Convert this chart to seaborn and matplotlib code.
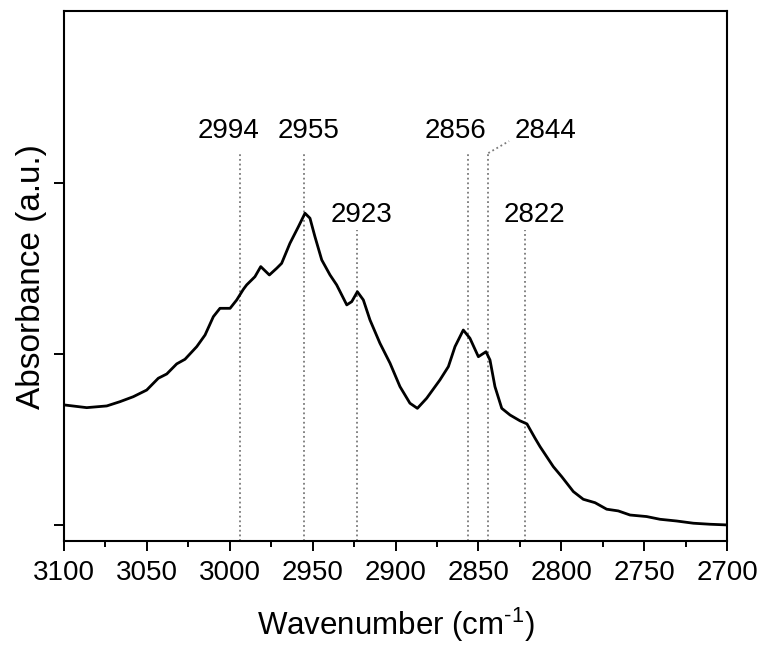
import numpy as np
import pandas as pd
import matplotlib
matplotlib.use("Agg")
import matplotlib.pyplot as plt
from matplotlib.ticker import MultipleLocator
import seaborn as sns

# ---- data ----
wavenumber = [3100.0, 3086.3, 3074.2, 3066.2, 3058.2, 3050.1, 3043.1, 3038.0, 3032.0, 3027.0,
              3019.9, 3014.9, 3009.9, 3005.9, 2999.8, 2995.8, 2991.8, 2989.8, 2984.8, 2981.3,
              2976.1, 2971.7, 2968.7, 2963.7, 2958.6, 2954.6, 2951.6, 2948.6, 2944.5, 2939.5,
              2935.5, 2929.4, 2926.4, 2923.0, 2919.4, 2915.4, 2909.4, 2903.3, 2897.3, 2891.3,
              2886.8, 2881.2, 2873.2, 2868.1, 2864.1, 2859.1, 2855.1, 2850.0, 2845.4, 2843.0,
              2840.0, 2835.9, 2830.9, 2824.9, 2820.7, 2815.8, 2812.8, 2804.8, 2799.7, 2792.7,
              2786.7, 2779.6, 2772.6, 2765.6, 2758.5, 2748.5, 2740.4, 2730.4, 2720.3, 2710.3,
              2700.0]
absorbance = [0.702, 0.686, 0.696, 0.721, 0.750, 0.789, 0.858, 0.883, 0.942, 0.969,
              1.043, 1.111, 1.218, 1.267, 1.267, 1.316, 1.378, 1.404, 1.452, 1.511,
              1.462, 1.501, 1.530, 1.647, 1.744, 1.823, 1.794, 1.686, 1.550, 1.462,
              1.404, 1.287, 1.306, 1.364, 1.316, 1.199, 1.063, 0.946, 0.809, 0.712,
              0.682, 0.741, 0.848, 0.926, 1.043, 1.140, 1.092, 0.984, 1.013, 0.965,
              0.809, 0.682, 0.643, 0.609, 0.591, 0.507, 0.458, 0.341, 0.282, 0.195,
              0.150, 0.130, 0.092, 0.082, 0.058, 0.049, 0.033, 0.023, 0.010, 0.004,
              0.000]

peak_positions = [2994, 2955, 2923, 2856, 2844, 2822]
peak_labels = ["2994", "2955", "2923", "2856", "2844", "2822"]
peak_line_top = [2.175, 2.175, 1.725, 2.175, 2.175, 1.725]

x_ticks = [3100, 3050, 3000, 2950, 2900, 2850, 2800, 2750, 2700]
y_ticks = [0, 1, 2]

# ---- styling ----
sns.set_style("ticks")
plt.rcParams["font.family"] = ["Liberation Sans", "DejaVu Sans"]
plt.rcParams["mathtext.fontset"] = "custom"
plt.rcParams["mathtext.rm"] = "Liberation Sans"
for key in ["text.color", "axes.labelcolor", "xtick.color", "ytick.color", "axes.edgecolor"]:
    plt.rcParams[key] = "black"

fig = plt.figure(figsize=(7.62, 6.51), dpi=100)
ax = fig.add_axes([64 / 762, 1 - 541 / 651, (727 - 64) / 762, (541 - 11) / 651])

df = pd.DataFrame({"wavenumber": wavenumber, "absorbance": absorbance})
sns.lineplot(data=df, x="wavenumber", y="absorbance", color="black", lw=2.0, ax=ax,
             sort=False, estimator=None, solid_joinstyle="round", solid_capstyle="round")

ymin, ymax = -0.094, 3.006
ax.set_xlim(3100, 2700)
ax.set_ylim(ymin, ymax)

# peak marker lines + labels
dot_style = dict(color="#7a7a7a", lw=1.3, linestyle=(0, (1, 1.6)))
label_offsets = {"2994": (-8, 0.09), "2955": (3, 0.09), "2923": (3.3, 0.045),
                 "2856": (-9, 0.09), "2844": (41, 0.09), "2822": (7, 0.045)}
for pos, lab, top in zip(peak_positions, peak_labels, peak_line_top):
    ax.plot([pos, pos], [ymin, top], **dot_style, zorder=1)
    dx_pt, dy = label_offsets[lab]
    ax.annotate(lab, xy=(pos, top + dy), xytext=(dx_pt, 0), textcoords="offset points",
                ha="center", va="baseline", fontsize=20, color="black")
    if lab == "2844":
        ax.plot([pos, pos - 12.5], [top, top + 0.07], **dot_style, zorder=1)

ax.set_xticks(x_ticks)
ax.set_xticklabels([str(t) for t in x_ticks])
ax.xaxis.set_minor_locator(MultipleLocator(25))
ax.set_yticks(y_ticks)
ax.set_yticklabels([])

ax.tick_params(axis="x", which="major", direction="out", length=7, width=1.4,
               labelsize=20, pad=7)
ax.tick_params(axis="x", which="minor", direction="out", length=4, width=1.4)
ax.tick_params(axis="y", which="major", direction="out", length=7, width=1.4)

for sp in ax.spines.values():
    sp.set_linewidth(1.5)
    sp.set_color("black")
    sp.set_visible(True)

ax.set_xlabel(r"Wavenumber (cm$^{\text{-}1}$)", fontsize=22.5, labelpad=14)
ax.set_ylabel("Absorbance (a.u.)", fontsize=24, va="baseline")
ax.yaxis.set_label_coords(-0.036, 0.498)

fig.savefig("out.png", dpi=100)
